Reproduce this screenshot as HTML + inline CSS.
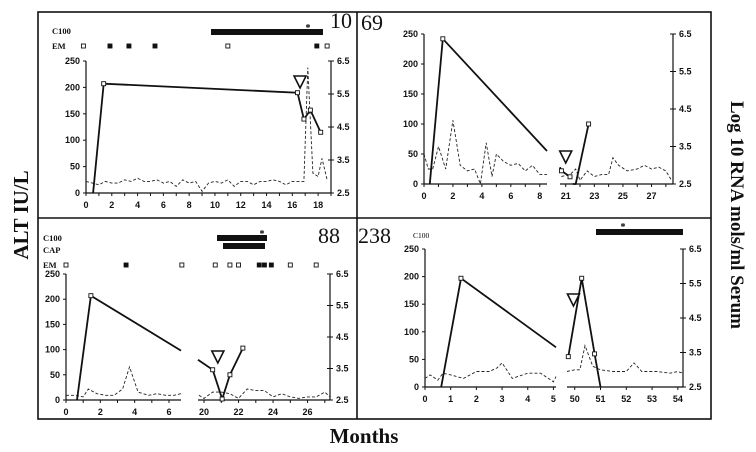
<!DOCTYPE html>
<html><head><meta charset="utf-8"><style>
body{margin:0;background:#fff}
svg{display:block}
.tk{font:bold 9px "Liberation Sans",sans-serif;fill:#111}
.lab{font:bold 8.5px "Liberation Serif",serif;fill:#111}
.num{font:22px "Liberation Serif",serif;fill:#111}
.ttl{font:bold 21px "Liberation Serif",serif;fill:#111}
.ttl2{font:bold 19px "Liberation Serif",serif;fill:#111}
</style></head><body>
<svg id="fig" width="756" height="452" viewBox="0 0 756 452">
<rect x="38" y="12" width="673" height="407" fill="none" stroke="#111" stroke-width="1.6"/>
<line x1="357" y1="12" x2="357" y2="419" stroke="#111" stroke-width="1.6"/>
<line x1="38" y1="218" x2="711" y2="218" stroke="#111" stroke-width="1.6"/>
<text class="ttl" transform="translate(28,215) rotate(-90)" text-anchor="middle">ALT IU/L</text>
<text class="ttl2" transform="translate(731,215) rotate(90)" text-anchor="middle">Log 10 RNA mols/ml Serum</text>
<text class="ttl" x="364" y="443" text-anchor="middle">Months</text>
<g>
<text class="lab" x="52" y="34">C100</text>
<text class="lab" x="52" y="49">EM</text>
<rect x="211" y="29" width="112" height="6" fill="#111"/>
<text x="308" y="31" font-size="10" font-weight="bold" text-anchor="middle">*</text>
<text class="num" x="330" y="28">10</text>
<text class="num" x="361" y="30">69</text>
<text class="lab" x="43" y="241">C100</text>
<text class="lab" x="43" y="253">CAP</text>
<text class="lab" x="43" y="268">EM</text>
<rect x="217" y="235" width="50" height="6" fill="#111"/>
<rect x="223" y="243" width="42" height="6" fill="#111"/>
<text x="262" y="237" font-size="10" font-weight="bold" text-anchor="middle">*</text>
<text class="num" x="318" y="243">88</text>
<text class="num" x="358" y="243">238</text>
<text x="413" y="238" font-family="Liberation Serif,serif" font-size="7.5">C100</text>
<rect x="596" y="229" width="87" height="6" fill="#111"/>
<text x="623" y="230" font-size="10" font-weight="bold" text-anchor="middle">*</text>
</g>
</svg>
<script>
// ---- Panel 1 (patient 10) ----
const p1AltMonths=[0.55,1.37,16.4,16.9,17.4,18.2];
const p1Alt=[0,207,190,140,157,115];
const p1RnaMonths=[0,0.5,1,1.5,2,2.5,3,3.5,4,4.5,5,5.5,6,6.5,7,7.5,8,8.5,9,9.5,10,10.5,11,11.5,12,12.5,13,13.5,14,14.5,15,15.5,16,16.5,16.9,17.2,17.6,18,18.3,18.7];
const p1Rna=[2.85,2.8,2.75,2.85,2.8,2.8,2.9,2.85,2.95,2.85,2.85,2.9,2.8,2.85,2.7,2.9,2.8,2.85,2.55,2.8,2.85,2.8,2.9,2.7,2.85,2.85,2.75,2.85,2.85,2.9,2.85,2.75,2.85,2.85,2.85,6.3,3.1,3.0,3.55,2.9];
const p1EmMonths=[-0.2,1.86,3.33,5.35,11.0,17.9,18.7];
const p1EmFilled=[0,1,1,1,0,1,0];
const p1XTicks=[0,2,4,6,8,10,12,14,16,18];
// ---- Panel 2 (patient 69) ----
const p2AltMonths=[0.4,1.3,8.5,20.6,20.7,21.3,21.5,21.7,22.6];
const p2Alt=[0,242,55,28,22,12,0,0,100];
const p2AltBreakAfter=[2,5];
const p2RnaMonths=[0,0.3,0.6,1,1.5,2,2.5,3,3.5,3.9,4.3,4.7,5,5.5,6,6.5,7,7.5,8,8.5,20.7,21.3,21.7,22,22.5,23,23.5,24,24.3,24.7,25.3,26,26.5,27,27.5,28,28.4];
const p2Rna=[3.3,2.9,2.9,3.5,2.9,4.2,3.0,2.85,2.9,2.5,3.6,2.7,3.3,3.1,3.0,3.05,2.85,3.0,2.75,2.75,2.7,2.75,2.9,2.6,2.85,2.7,2.75,2.75,3.2,3.0,2.85,2.9,3.0,2.9,2.95,2.85,2.6];
const p2XTicks=[0,2,4,6,8,21,23,25,27];
// ---- Panel 3 (patient 88) ----
const p3AltMonths=[0.64,1.45,6.7,19.65,20.5,21.05,21.5,22.25];
const p3Alt=[0,207,98,80,60,2,50,103];
const p3AltBreakAfter=[2];
const p3RnaMonths=[0,0.5,1,1.3,1.8,2.3,2.8,3.3,3.7,4.2,4.8,5.3,5.8,6.3,6.7,19.7,20,20.5,21,21.5,22,22.5,23,23.5,24,24.5,25,25.5,26,26.5,27,27.3];
const p3Rna=[2.65,2.65,2.6,2.85,2.7,2.65,2.65,2.85,3.55,2.75,2.65,2.7,2.65,2.65,2.7,2.65,2.55,2.75,2.75,2.7,2.55,2.85,2.8,2.8,2.6,2.7,2.6,2.55,2.6,2.6,2.75,2.6];
const p3EmMonths=[0,3.5,6.75,20.65,21.5,22.0,23.2,23.5,23.9,25.0,26.5];
const p3EmFilled=[0,1,0,0,0,0,1,1,1,0,0];
const p3XTicks=[0,2,4,6,20,22,24,26];
// ---- Panel 4 (patient 238) ----
const p4AltMonths=[0.63,1.4,5.1,49.75,50.27,50.77,51.0];
const p4Alt=[0,197,72,55,197,60,0];
const p4AltBreakAfter=[2];
const p4RnaMonths=[0,0.2,0.5,0.7,1,1.5,2,2.5,2.8,3,3.4,4,4.5,5,5.1,49.7,50,50.2,50.4,50.7,51,51.5,52,52.3,52.6,53.2,53.7,54,54.2];
const p4Rna=[2.75,2.85,2.7,2.9,2.85,2.75,2.95,2.95,3.05,3.2,2.75,2.9,2.9,2.65,2.8,2.95,3.0,3.0,3.7,3.1,3.0,2.95,2.95,3.2,2.95,2.95,2.9,2.95,2.9];
const p4XTicks=[0,1,2,3,4,5,50,51,52,53,54];
const altTicks=[0,50,100,150,200,250];
const rnaTicks=[2.5,3.5,4.5,5.5,6.5];

const NS='http://www.w3.org/2000/svg';
const svg=document.getElementById('fig');
function mk(tag,attrs,parent,text){const e=document.createElementNS(NS,tag);for(const k in attrs)e.setAttribute(k,attrs[k]);if(text!==undefined)e.textContent=text;(parent||svg).appendChild(e);return e;}

function panel(cfg){
  const g=mk('g',{});
  
  
  const segs=cfg.segs;
  const segOf=m=>{for(let i=0;i<segs.length;i++){const s=segs[i];if(m>=s.m0-0.05&&m<=s.m1+0.05)return i;}return m<segs[0].m0?0:segs.length-1;};
  const x=m=>{const s=segs[segOf(m)];return s.p0+(m-s.m0)*(s.p1-s.p0)/(s.m1-s.m0);};
  const yA=v=>cfg.bot-(v/250)*(cfg.bot-cfg.top);
  const yR=v=>cfg.bot-((v-2.5)/4)*(cfg.bot-cfg.top);
  const la=mk('line',{x1:cfg.left,y1:cfg.top,x2:cfg.left,y2:cfg.bot,stroke:'#111','stroke-width':1.2},g);
  
  const ra=mk('line',{x1:cfg.right,y1:cfg.top,x2:cfg.right,y2:cfg.bot,stroke:'#111','stroke-width':1.2},g);
  
  segs.forEach((s,i)=>{const b=mk('line',{x1:s.p0,y1:cfg.bot,x2:s.p1,y2:cfg.bot,stroke:'#111','stroke-width':1.2},g);
    
    for(let m=Math.ceil(s.m0);m<=s.m1;m++){mk('line',{x1:x(m),y1:cfg.bot,x2:x(m),y2:cfg.bot+3,stroke:'#111','stroke-width':1},g);} });
  altTicks.forEach(v=>{mk('line',{x1:cfg.left-3,y1:yA(v),x2:cfg.left,y2:yA(v),stroke:'#111'},g);
    const t=mk('text',{x:cfg.left-6,y:yA(v)+3,'text-anchor':'end',class:'tk'},g,String(v));
    });
  rnaTicks.forEach(v=>{mk('line',{x1:cfg.right-3,y1:yR(v),x2:cfg.right+3,y2:yR(v),stroke:'#111'},g);
    const t=mk('text',{x:cfg.right+6,y:yR(v)+3,class:'tk'},g,v.toFixed(1));
    });
  cfg.xTicks.forEach(m=>{const t=mk('text',{x:x(m),y:cfg.bot+15,'text-anchor':'middle',class:'tk'},g,String(m));
    });
  const rs={};cfg.rnaM.forEach((m,i)=>{const k=segOf(m);(rs[k]=rs[k]||[]).push(x(m).toFixed(1)+','+yR(cfg.rna[i]).toFixed(1));});
  for(const k in rs){const p=mk('polyline',{points:rs[k].join(' '),fill:'none',stroke:'#222','stroke-width':0.9,'stroke-dasharray':'3,2'},g);
    }
  let groups=[[]];cfg.altM.forEach((m,i)=>{groups[groups.length-1].push([x(m),yA(cfg.alt[i])]);if(cfg.breaks.includes(i))groups.push([]);});
  groups.forEach(gr=>{const p=mk('polyline',{points:gr.map(q=>q[0].toFixed(1)+','+q[1].toFixed(1)).join(' '),fill:'none',stroke:'#111','stroke-width':1.8},g);
    });
  cfg.altM.forEach((m,i)=>{if(cfg.noMark.includes(i))return;const r=mk('rect',{x:x(m)-2,y:yA(cfg.alt[i])-2,width:4,height:4,fill:'#fff',stroke:'#111','stroke-width':0.9},g);
    });
  const tx=x(cfg.tri[0]),ty=cfg.tri[1];
  const tr=mk('polygon',{points:`${tx-6},${ty-6} ${tx+6},${ty-6} ${tx},${ty+6}`,fill:'#fff',stroke:'#111','stroke-width':1.6},g);
  
  if(cfg.em){cfg.em.forEach((m,i)=>{const r=mk('rect',{x:x(m)-2,y:cfg.emY-2,width:4,height:4,fill:cfg.emF[i]?'#111':'#fff',stroke:'#111','stroke-width':0.9},g);
    });}
  return g;
}

panel({name:'panel-patient-10',left:86,right:331,top:61,bot:193,segs:[{m0:0,m1:19,p0:86,p1:331}],
  xTicks:p1XTicks,altM:p1AltMonths,alt:p1Alt,breaks:[],noMark:[0],rnaM:p1RnaMonths,rna:p1Rna,tri:[16.6,82],em:p1EmMonths,emF:p1EmFilled,emY:46});
panel({name:'panel-patient-69',left:424,right:673,top:34,bot:184,segs:[{m0:0,m1:8.5,p0:424,p1:547},{m0:20.6,m1:28.5,p0:560,p1:673}],
  xTicks:p2XTicks,altM:p2AltMonths,alt:p2Alt,breaks:p2AltBreakAfter,noMark:[0,2,3,6,7],rnaM:p2RnaMonths,rna:p2Rna,tri:[21.0,157]});
panel({name:'panel-patient-88',left:66,right:330,top:274,bot:400,segs:[{m0:0,m1:6.7,p0:66,p1:181},{m0:19.65,m1:27.3,p0:198,p1:330}],
  xTicks:p3XTicks,altM:p3AltMonths,alt:p3Alt,breaks:p3AltBreakAfter,noMark:[0,2,3],rnaM:p3RnaMonths,rna:p3Rna,tri:[20.8,357],em:p3EmMonths,emF:p3EmFilled,emY:265});
panel({name:'panel-patient-238',left:425,right:683,top:249,bot:387,segs:[{m0:0,m1:5.1,p0:425,p1:556},{m0:49.7,m1:54.2,p0:567,p1:683}],
  xTicks:p4XTicks,altM:p4AltMonths,alt:p4Alt,breaks:p4AltBreakAfter,noMark:[0,2,6],rnaM:p4RnaMonths,rna:p4Rna,tri:[49.95,300]});
</script>
</body></html>
